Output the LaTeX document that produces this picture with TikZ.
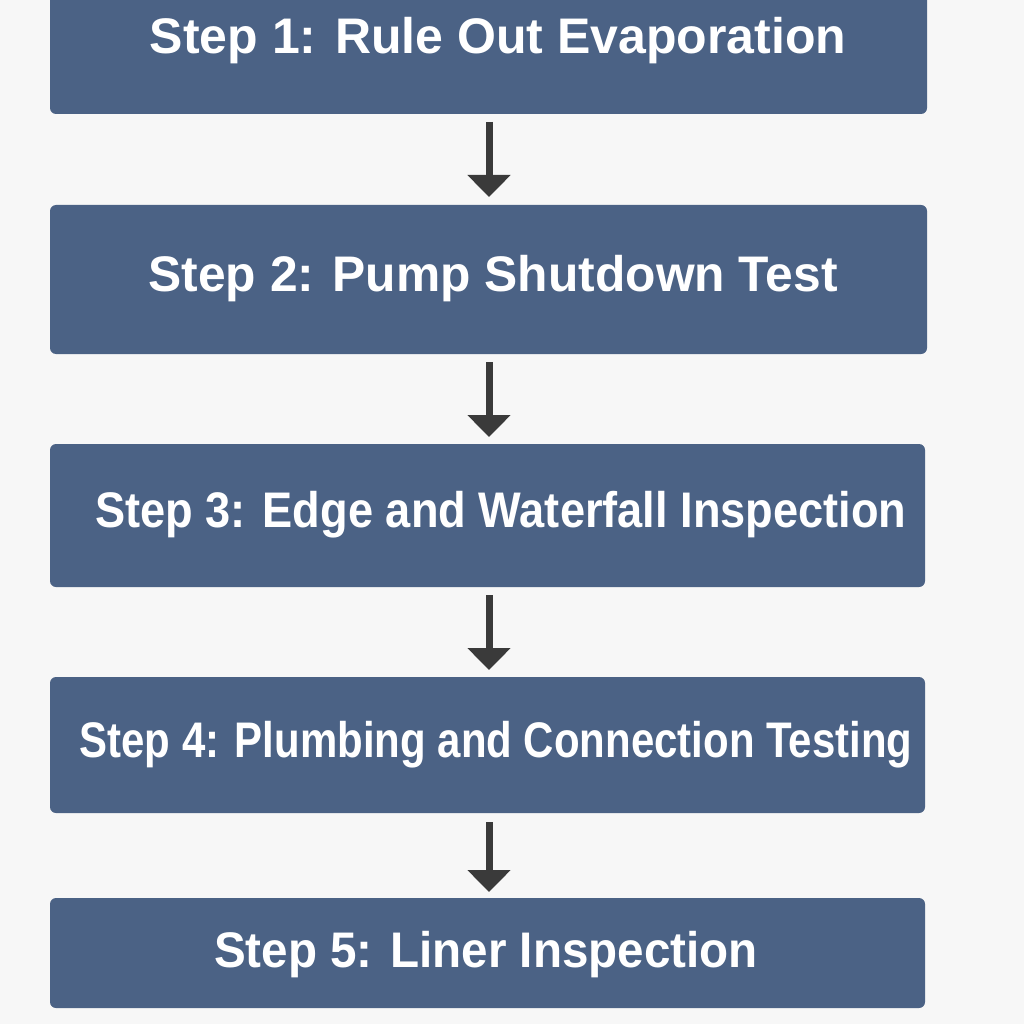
\documentclass[tikz,border=0pt]{standalone}
\usepackage{fontspec}
\setmainfont{Liberation Sans}
\usetikzlibrary{arrows.meta}
\definecolor{boxc}{HTML}{4B6285}
\definecolor{bgc}{HTML}{F7F7F7}
\definecolor{arc}{HTML}{3A3A3A}
\begin{document}
\begin{tikzpicture}[x=1pt,y=-1pt,
  stepbox/.style={fill=boxc,rounded corners=6pt},
  steptext/.style={text=white,font=\fontsize{50}{54}\selectfont\bfseries},
  arr/.style={draw=arc,line width=7pt,-{Triangle[length=22pt,width=42pt]}}]
\fill[bgc] (0,0) rectangle (1024,1024);
\useasboundingbox (0,0) rectangle (1024,1024);
\begin{scope}
\clip (0,0) rectangle (1024,1024);
\fill[stepbox] (50,-20) rectangle (927,114);
\end{scope}
\node[steptext,xscale=1.0] (s1) at (498,41) {Step 1: Rule Out Evaporation};
\fill[stepbox] (50,205) rectangle (927,354);
\node[steptext,xscale=0.995] (s2) at (493,279) {Step 2: Pump Shutdown Test};
\fill[stepbox] (50,444) rectangle (925,587);
\node[steptext,xscale=0.904] (s3) at (501,515) {Step 3: Edge and Waterfall Inspection};
\fill[stepbox] (50,677) rectangle (925,813);
\node[steptext,xscale=0.839] (s4) at (496,745) {Step 4: Plumbing and Connection Testing};
\fill[stepbox] (50,898) rectangle (925,1008);
\node[steptext,xscale=0.952] (s5) at (486,955) {Step 5: Liner Inspection};
\coordinate (b1) at (489,122); \coordinate (t1) at (489,197);
\coordinate (b2) at (489,362); \coordinate (t2) at (489,437);
\coordinate (b3) at (489,595); \coordinate (t3) at (489,670);
\coordinate (b4) at (489,822); \coordinate (t4) at (489,892);
\draw[arr] (b1) -- (t1);
\draw[arr] (b2) -- (t2);
\draw[arr] (b3) -- (t3);
\draw[arr] (b4) -- (t4);
\end{tikzpicture}
\end{document}
